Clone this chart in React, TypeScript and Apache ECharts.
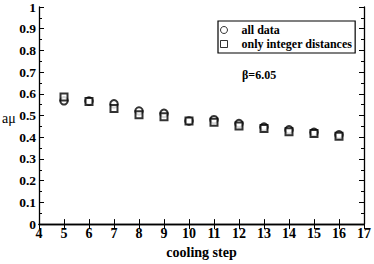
import React, { useEffect, useRef } from "react";
import * as echarts from "echarts";

const coolingSteps = [5, 6, 7, 8, 9, 10, 11, 12, 13, 14, 15, 16];
const allData = [0.568, 0.567, 0.554, 0.521, 0.510, 0.475, 0.481, 0.463, 0.447, 0.434, 0.423, 0.411];
const integerDistances = [0.585, 0.565, 0.533, 0.504, 0.495, 0.475, 0.469, 0.452, 0.440, 0.425, 0.417, 0.405];
const seriesNames = ["all data", "only integer distances"];
const xTitle = "cooling step";
const yTitle = "aμ";
const annotation = "β=6.05";

const FONT = "Liberation Serif";

export default function App() {
  const ref = useRef<HTMLDivElement>(null);
  useEffect(() => {
    if (!ref.current) return;
    const chart = echarts.init(ref.current, undefined, { renderer: "svg" });
    const axisLine = { show: true, lineStyle: { color: "#000", width: 1.3 } };
    const tickStyle = { color: "#000", width: 1 };
    chart.setOption({
      animation: false,
      grid: { left: 39, right: 7.5, top: 5, bottom: 30 },
      xAxis: [
        {
          type: "value", min: 4, max: 17, interval: 1,
          axisLine,
          axisTick: { show: true, inside: true, length: 5, lineStyle: tickStyle },
          splitLine: { show: false },
          axisLabel: { color: "#000", fontFamily: FONT, fontWeight: "bold", fontSize: 14, margin: 2 },
          name: xTitle, nameLocation: "middle", nameGap: 15,
          nameTextStyle: { color: "#000", fontFamily: FONT, fontWeight: "bold", fontSize: 14 },
        },
        {
          type: "value", min: 4, max: 17, interval: 1, position: "top",
          axisLine,
          axisTick: { show: true, inside: true, length: 5, lineStyle: tickStyle },
          axisLabel: { show: false }, splitLine: { show: false },
        },
      ],
      yAxis: [
        {
          type: "value", min: 0, max: 1, interval: 0.1,
          axisLine,
          axisTick: { show: true, inside: true, length: 5, lineStyle: tickStyle },
          minorTick: { show: true, splitNumber: 2, length: 3, lineStyle: tickStyle },
          splitLine: { show: false },
          axisLabel: { color: "#000", fontFamily: FONT, fontWeight: "bold", fontSize: 13.5, margin: 3 },
        },
        {
          type: "value", min: 0, max: 1, interval: 0.1, position: "right",
          axisLine,
          axisTick: { show: true, inside: true, length: 5, lineStyle: tickStyle },
          minorTick: { show: true, splitNumber: 2, length: 3, lineStyle: tickStyle },
          axisLabel: { show: false }, splitLine: { show: false },
        },
      ],
      legend: {
        show: true,
        orient: "vertical",
        left: 218, top: 21,
        padding: [3, 3, 3, 2],
        itemGap: 2,
        itemWidth: 7, itemHeight: 7,
        borderColor: "#000", borderWidth: 1.2,
        textStyle: { color: "#000", fontFamily: FONT, fontWeight: "bold", fontSize: 12, padding: [0, 0, 0, 9], lineHeight: 12 },
        data: [
          { name: seriesNames[0], icon: "circle", itemStyle: { color: "#fff", borderColor: "#000", borderWidth: 1 } },
          { name: seriesNames[1], icon: "rect", itemStyle: { color: "#fff", borderColor: "#000", borderWidth: 1 } },
        ],
      },
      graphic: [
        {
          type: "text", left: 242, top: 69,
          style: { text: annotation, fill: "#000", font: `bold 12px ${FONT}` },
        },
        {
          type: "text", left: 2, top: 111,
          style: { text: yTitle, fill: "#000", font: `14px ${FONT}` },
        },
      ],
      series: [
        {
          name: seriesNames[0], type: "scatter", symbol: "emptyCircle", symbolSize: 7.5,
          itemStyle: { color: "#000", borderColor: "#000", borderWidth: 1.3 },
          data: coolingSteps.map((x, i) => [x, allData[i]]),
        },
        {
          name: seriesNames[1], type: "scatter", symbol: "emptyRect", symbolSize: 7,
          itemStyle: { color: "#000", borderColor: "#000", borderWidth: 1.3 },
          data: coolingSteps.map((x, i) => [x, integerDistances[i]]),
        },
      ],
    });
    return () => chart.dispose();
  }, []);
  return <div ref={ref} style={{ width: 374, height: 264, position: "absolute", left: 0, top: 0 }} />;
}
